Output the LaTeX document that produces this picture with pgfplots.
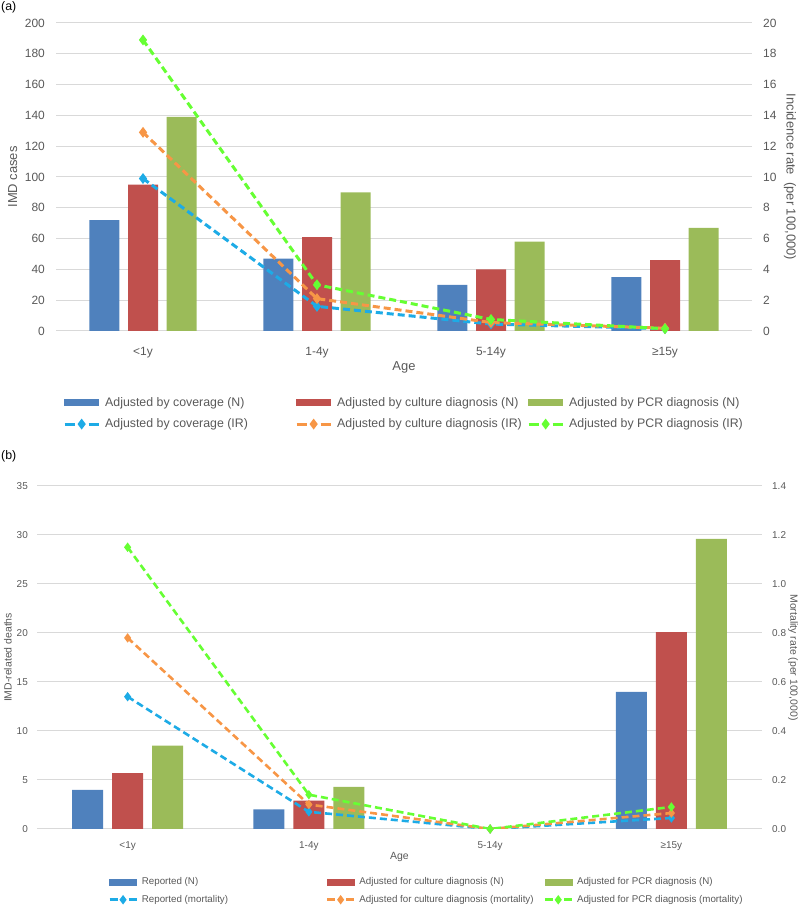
\documentclass[border=0pt]{standalone}
\usepackage{fontspec}
\setmainfont{Liberation Sans}
\usepackage{pgfplots}
\pgfplotsset{compat=1.18}

\definecolor{txt}{HTML}{595959}
\definecolor{gridc}{HTML}{D9D9D9}
\definecolor{barblue}{HTML}{4F81BD}
\definecolor{barred}{HTML}{C0504D}
\definecolor{bargreen}{HTML}{9BBB59}
\definecolor{lnblue}{HTML}{1DABE6}
\definecolor{lnorange}{HTML}{F79646}
\definecolor{lngreen}{HTML}{66FF33}

\pgfplotsset{
  excel/.style={
    scale only axis, anchor=south west,
    xmin=-0.5, xmax=3.5,
    axis line style={draw=none},
    tick style={draw=none},
    /pgf/number format/assume math mode=true,
    tick label style={text=txt},
  },
  barleg/.style={legend image code/.code={\fill[##1] (0bp,-3bp) rectangle (#1,3bp);}},
  % one dash each side of the diamond, as in the original legend
  lineleg/.style 2 args={legend image code/.code={%
    \draw[mark repeat=2, mark phase=2, ##1, dash pattern=on #2 off {#1-2*(#2)}]
      plot coordinates {(0bp,0bp) (#1/2,0bp) (#1,0bp)};}},
  dline/.style={line width=3bp, dash pattern=on 7bp off 4bp, mark=diamond*, mark size=3bp,
    mark options={solid}},
}

\newcommand{\lta}[1]{\makebox[190bp][l]{#1}}
\newcommand{\ltb}[1]{\makebox[184bp][l]{#1}}
\newcommand{\fa}{\fontsize{13}{15}\selectfont}
\newcommand{\fb}{\fontsize{10.5}{12}\selectfont}

\begin{document}
\begin{tikzpicture}
\path[use as bounding box] (0bp,0bp) rectangle (800bp,907bp);

\node[anchor=west, inner sep=0pt, font=\fontsize{12.4}{14}\selectfont] at (1bp,900bp) {(a)};
\node[anchor=west, inner sep=0pt, font=\fontsize{12.4}{14}\selectfont] at (1bp,451bp) {(b)};

% ---- panel (a): cases
\begin{axis}[excel,
  at={(56bp,576bp)}, width=696bp, height=308bp,
  ymin=0, ymax=200, ytick distance=20,
  ymajorgrids, major grid style={gridc, line width=1bp},
  ybar=8.7bp, bar width=30bp,
  xtick={0,1,2,3}, xticklabels={<1y,1-4y,5-14y,≥15y},
  tick label style={font=\fontsize{12}{14}\selectfont},
  xticklabel style={anchor=north, inner sep=0pt, yshift=-12bp},
  yticklabel style={anchor=east, inner sep=0pt, xshift=-11bp},
  xlabel={Age}, ylabel={IMD cases},
  every axis x label/.style={at={(axis description cs:0.5,-0.117)}, anchor=center, font=\fa, text=txt},
  every axis y label/.style={at={(axis description cs:-0.062,0.5)}, rotate=90, anchor=center, font=\fa, text=txt},
]
\addplot[fill=barblue, draw=none] coordinates {(0,72) (1,47) (2,30) (3,35)};
\addplot[fill=barred, draw=none] coordinates {(0,95) (1,61) (2,40) (3,46)};
\addplot[fill=bargreen, draw=none] coordinates {(0,139) (1,90) (2,58) (3,67)};
\end{axis}

\begin{axis}[excel,
  at={(56bp,576bp)}, width=696bp, height=308bp,
  ymin=0, ymax=20, ytick distance=2,
  axis y line*=right, hide x axis,
  tick label style={font=\fontsize{12}{14}\selectfont},
  yticklabel style={anchor=west, inner sep=0pt, xshift=11bp},
  ylabel={Incidence rate\ \ (per 100,000)},
  every axis y label/.style={at={(axis description cs:1.0546,0.5)}, rotate=-90, anchor=center, font=\fa, text=txt},
  legend columns=3,
  legend style={at={(axis description cs:0.01,-0.215)}, anchor=north west,
    draw=none, fill=none, inner sep=0pt, row sep=11bp,
    font=\fontsize{12.4}{14}\selectfont, text=txt,
    nodes={inner sep=0pt},
    /tikz/every odd column/.append style={column sep=5bp}},
  legend cell align=left,
]
\addlegendimage{barleg=34bp, barblue}
\addlegendentry{\lta{Adjusted by coverage (N)}}
\addlegendimage{barleg=34bp, barred}
\addlegendentry{\lta{Adjusted by culture diagnosis (N)}}
\addlegendimage{barleg=34bp, bargreen}
\addlegendentry{\lta{Adjusted by PCR diagnosis (N)}}
\addplot[dline, lnblue, lineleg={34bp}{10bp}] coordinates {(0,9.9) (1,1.6) (2,0.45) (3,0.15)};
\addlegendentry{\lta{Adjusted by coverage (IR)}}
\addplot[dline, lnorange, lineleg={34bp}{10bp}] coordinates {(0,12.9) (1,2.1) (2,0.55) (3,0.18)};
\addlegendentry{\lta{Adjusted by culture diagnosis (IR)}}
\addplot[dline, lngreen, lineleg={34bp}{10bp}] coordinates {(0,18.9) (1,3.0) (2,0.75) (3,0.15)};
\addlegendentry{\lta{Adjusted by PCR diagnosis (IR)}}
\end{axis}

% ---- panel (b): deaths
\begin{axis}[excel,
  at={(37bp,78bp)}, width=725bp, height=343bp,
  ymin=0, ymax=35, ytick distance=5,
  ymajorgrids, major grid style={gridc, line width=1bp},
  ybar=9bp, bar width=31bp,
  xtick={0,1,2,3}, xticklabels={<1y,1-4y,5-14y,≥15y},
  tick label style={font=\fontsize{10}{12}\selectfont},
  xticklabel style={anchor=north, inner sep=0pt, yshift=-8bp},
  yticklabel style={anchor=east, inner sep=0pt, xshift=-9bp},
  xlabel={Age}, ylabel={IMD-related deaths},
  every axis x label/.style={at={(axis description cs:0.5,-0.082)}, anchor=center, font=\fb, text=txt},
  every axis y label/.style={at={(axis description cs:-0.040,0.5)}, rotate=90, anchor=center, font=\fb, text=txt},
]
\addplot[fill=barblue, draw=none] coordinates {(0,4.0) (1,2.0) (2,0) (3,14.0)};
\addplot[fill=barred, draw=none] coordinates {(0,5.7) (1,2.9) (2,0) (3,20.1)};
\addplot[fill=bargreen, draw=none] coordinates {(0,8.5) (1,4.3) (2,0) (3,29.6)};
\end{axis}

\begin{axis}[excel,
  at={(37bp,78bp)}, width=725bp, height=343bp,
  ymin=0, ymax=1.4, ytick={0,0.2,0.4,0.6,0.8,1.0,1.2,1.4},
  axis y line*=right, hide x axis,
  yticklabel style={/pgf/number format/fixed, /pgf/number format/fixed zerofill,
    /pgf/number format/precision=1},
  tick label style={font=\fontsize{10}{12}\selectfont},
  yticklabel style={anchor=west, inner sep=0pt, xshift=10bp},
  ylabel={Mortality rate (per 100,000)},
  every axis y label/.style={at={(axis description cs:1.0428,0.5)}, rotate=-90, anchor=center, font=\fb, text=txt},
  legend columns=3,
  legend style={at={(axis description cs:0.098,-0.142)}, anchor=north west,
    draw=none, fill=none, inner sep=0pt, row sep=9bp,
    font=\fontsize{9.8}{12}\selectfont, text=txt,
    nodes={inner sep=0pt},
    /tikz/every odd column/.append style={column sep=4bp}},
  legend cell align=left,
]
\addlegendimage{barleg=27bp, barblue}
\addlegendentry{\ltb{Reported (N)}}
\addlegendimage{barleg=27bp, barred}
\addlegendentry{\ltb{Adjusted for culture diagnosis (N)}}
\addlegendimage{barleg=27bp, bargreen}
\addlegendentry{\ltb{Adjusted for PCR diagnosis (N)}}
\addplot[dline, line width=2.6bp, mark size=2.6bp, lnblue, lineleg={27bp}{8bp}] coordinates {(0,0.54) (1,0.07) (2,0) (3,0.045)};
\addlegendentry{\ltb{Reported (mortality)}}
\addplot[dline, line width=2.6bp, mark size=2.6bp, lnorange, lineleg={27bp}{8bp}] coordinates {(0,0.78) (1,0.10) (2,0) (3,0.065)};
\addlegendentry{\ltb{Adjusted for culture diagnosis (mortality)}}
\addplot[dline, line width=2.6bp, mark size=2.6bp, lngreen, lineleg={27bp}{8bp}] coordinates {(0,1.15) (1,0.14) (2,0) (3,0.09)};
\addlegendentry{\ltb{Adjusted for PCR diagnosis (mortality)}}
\end{axis}
\end{tikzpicture}
\end{document}
